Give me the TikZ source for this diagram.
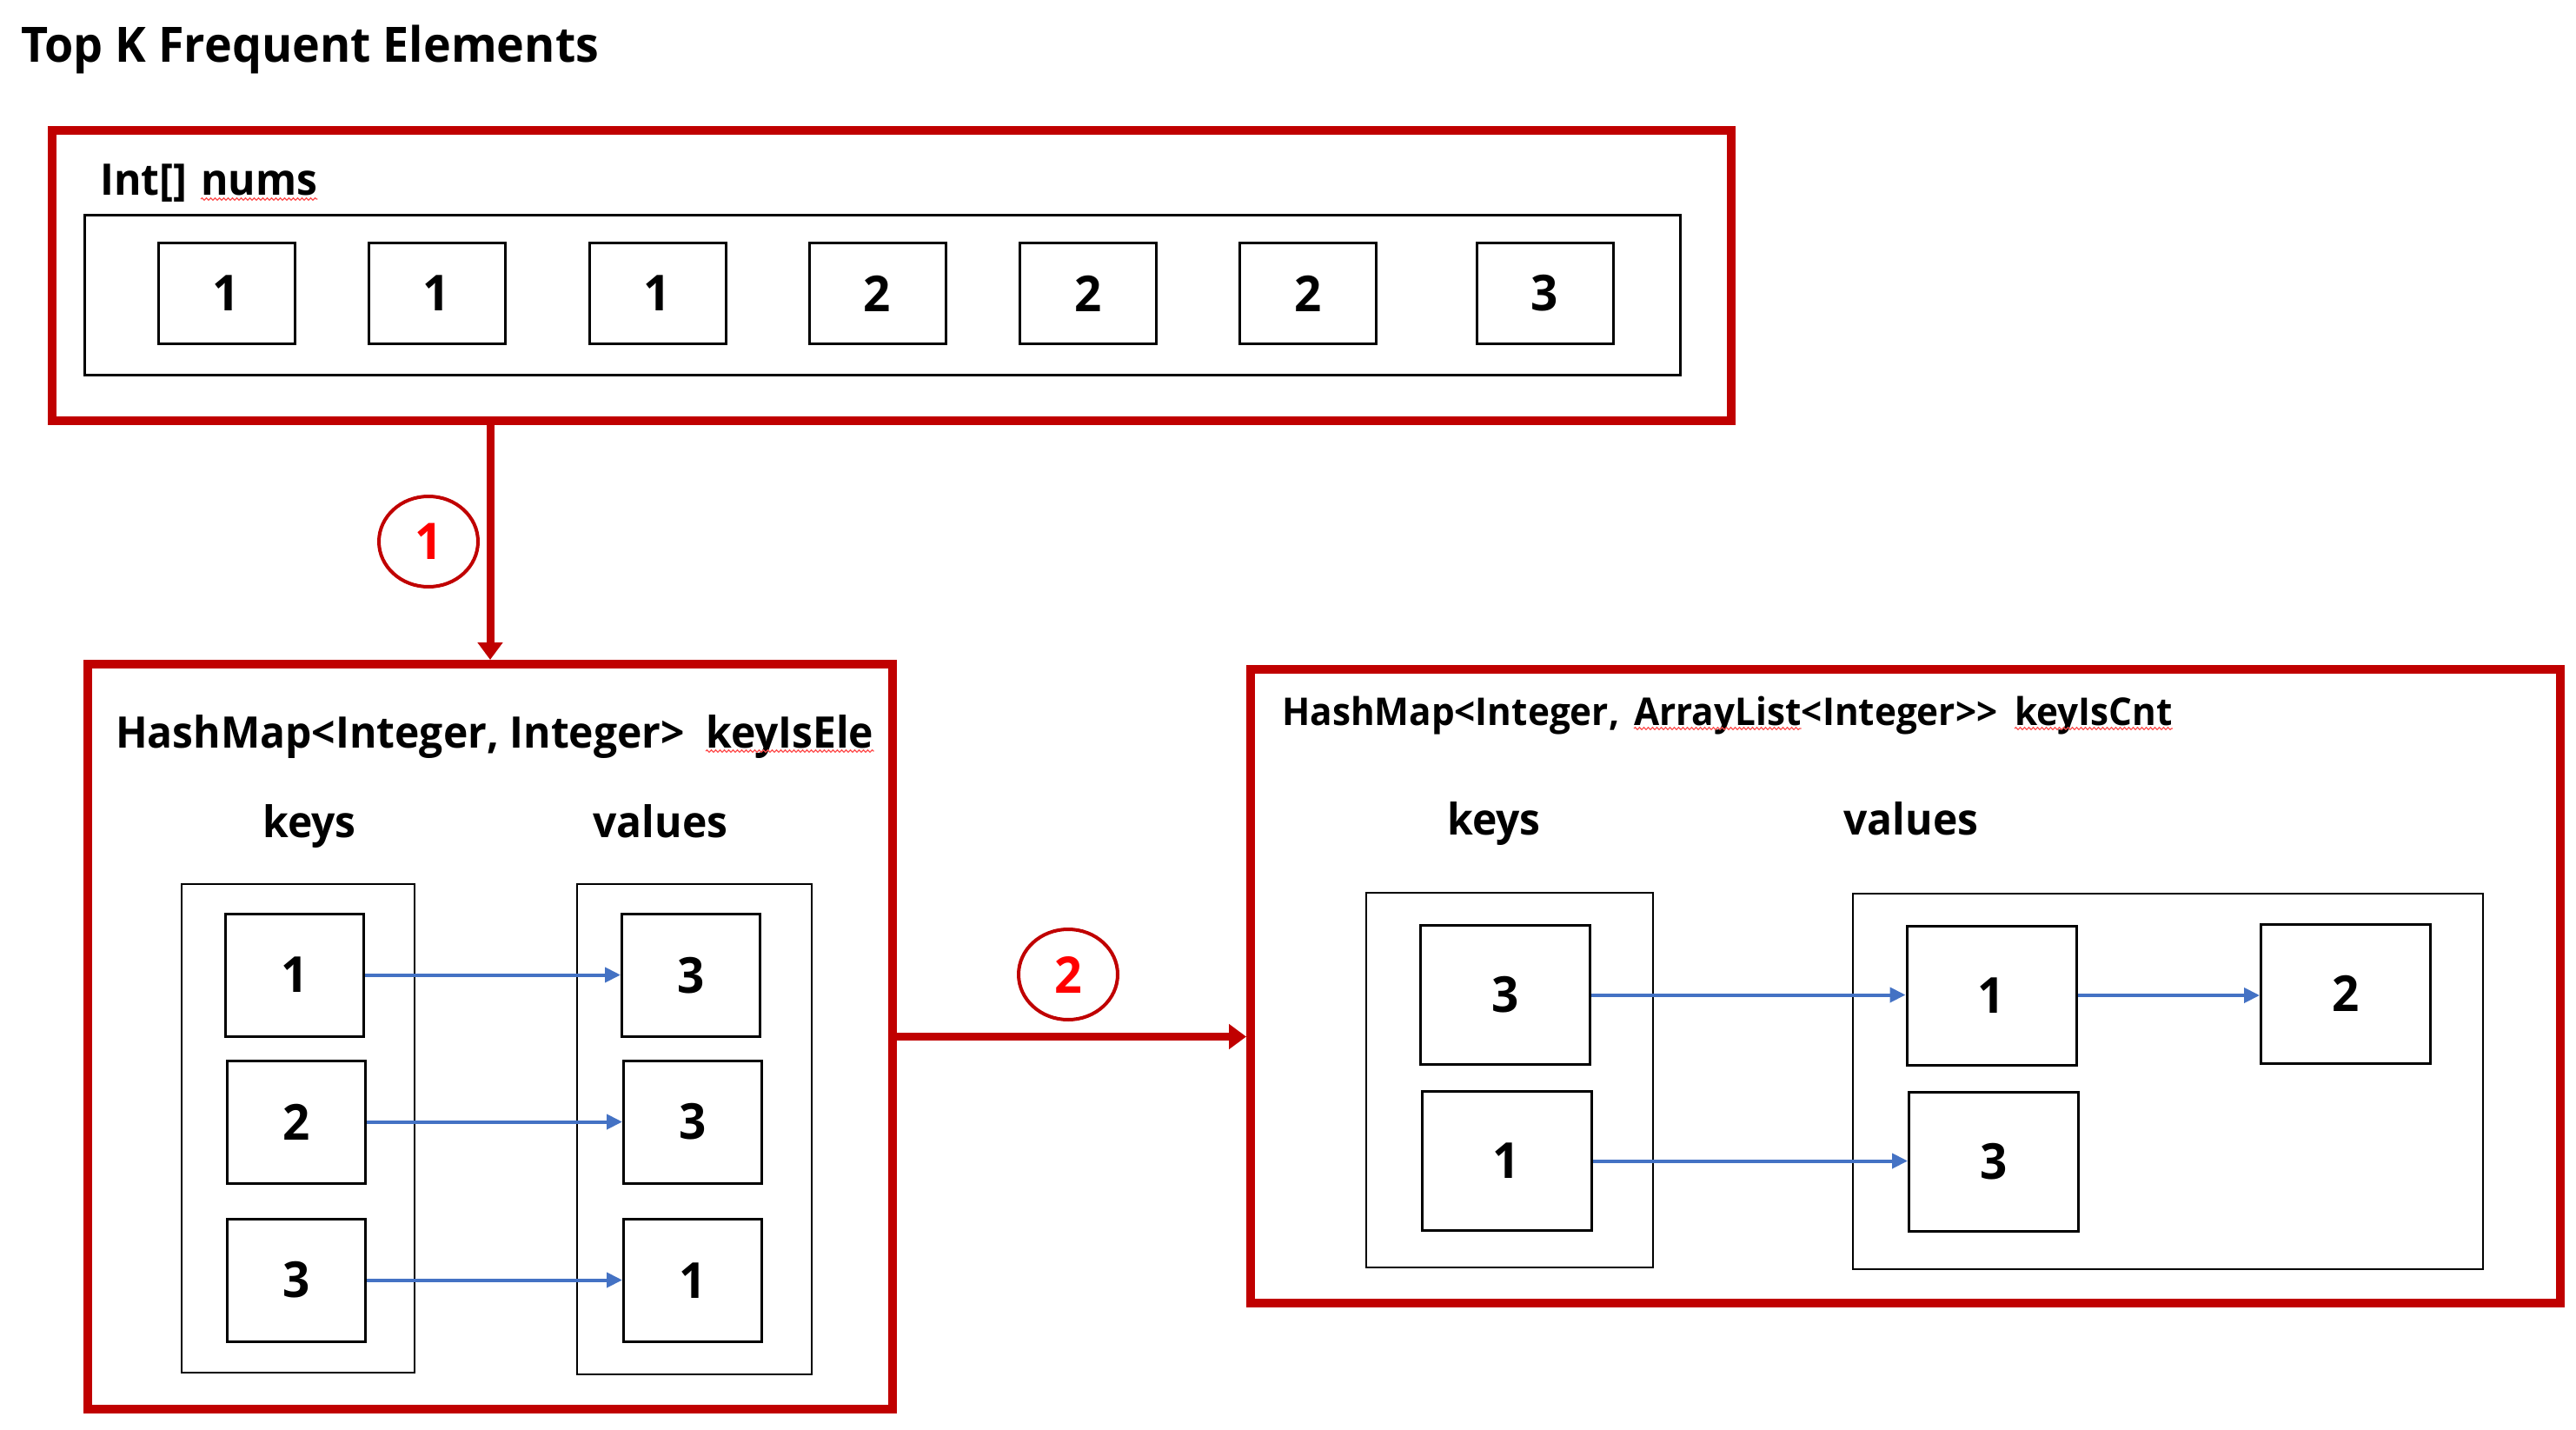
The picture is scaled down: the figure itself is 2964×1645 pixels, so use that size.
\documentclass[tikz,border=0pt]{standalone}
\usepackage{fontspec}
\setmainfont{Open Sans}[FakeStretch=0.96]
\usetikzlibrary{arrows.meta,shapes.geometric,decorations.pathmorphing}
\definecolor{boxred}{HTML}{C00000}
\definecolor{numred}{HTML}{FF0000}
\definecolor{linkblue}{HTML}{4472C4}
\tikzset{
  redframe/.style={draw=boxred, line width=10pt, inner sep=0pt},
  holder/.style={draw=black, line width=2.6pt, inner sep=0pt},
  numbox/.style={draw=black, line width=3pt, inner sep=0pt, minimum width=157pt, minimum height=115pt, font=\bfseries\fontsize{57}{68}\selectfont},
  cellbox/.style={draw=black, line width=3pt, inner sep=0pt, minimum width=159pt, minimum height=141pt, font=\bfseries\fontsize{57}{68}\selectfont},
  bigcell/.style={draw=black, line width=3pt, inner sep=0pt, minimum width=195pt, minimum height=160pt, font=\bfseries\fontsize{57}{68}\selectfont},
  stepmark/.style={ellipse, draw=boxred, line width=4pt, inner sep=0pt, minimum width=114pt, minimum height=104pt, text=numred, font=\bfseries\fontsize{58}{70}\selectfont},
  redarrow/.style={draw=boxred, line width=9pt, -{Triangle[length=20pt,width=28pt]}},
  bluearrow/.style={draw=linkblue, line width=4pt, -{Triangle[length=18pt,width=17pt]}},
  squig/.style={draw=numred!70, line width=1.2pt, decorate, decoration={snake, amplitude=1.3pt, segment length=5pt}},
  ttl/.style={inner sep=0pt, anchor=base west, font=\bfseries\fontsize{56}{66}\selectfont},
  lbl/.style={inner sep=0pt, anchor=base west, font=\bfseries\fontsize{50}{60}\selectfont},
  lbls/.style={inner sep=0pt, anchor=base west, font=\bfseries\fontsize{44}{54}\selectfont},
  colhead/.style={inner sep=0pt, anchor=base, font=\bfseries\fontsize{50}{60}\selectfont},
}
\begin{document}
\begin{tikzpicture}[x=1pt,y=-1pt]
\useasboundingbox[fill=white] (0,0) rectangle (2964,1645);

% title
\node[ttl] (title) at (24,72) {Top K Frequent Elements};

% top frame: Int[] nums
\node[redframe, minimum width=1932pt, minimum height=334pt] (top) at (1026,317) {};
\node[lbl] (numsa) at (115,225) {Int[]};
\node[lbl] (numsb) at (231,225) {nums};
\draw[squig] ([yshift=-4pt]numsb.base west) -- ([yshift=-4pt]numsb.base east);
\node[draw=black, line width=3pt, inner sep=0pt, minimum width=1836pt, minimum height=183pt] (arr) at (1015,339.5) {};
\node[numbox] (n1) at (260.5,337.5) {1};
\node[numbox] (n2) at (502.5,337.5) {1};
\node[numbox] (n3) at (756.5,337.5) {1};
\node[numbox] (n4) at (1009.5,337.5) {2};
\node[numbox] (n5) at (1252,337.5) {2};
\node[numbox] (n6) at (1505,337.5) {2};
\node[numbox] (n7) at (1777.5,337.5) {3};

% left hashmap
\node[redframe, minimum width=926pt, minimum height=857pt] (lh) at (564,1192.5) {};
\node[lbl] (lha) at (133,860) {HashMap<Integer, Integer>};
\node[lbl] (lhb) at (812,860) {keyIsEle};
\draw[squig] ([yshift=-4pt]lhb.base west) -- ([yshift=-4pt]lhb.base east);
\node[colhead] (lkeys) at (356,963) {keys};
\node[colhead] (lvals) at (760,963) {values};
\node[holder, minimum width=268pt, minimum height=562pt] (lkc) at (343,1298) {};
\node[holder, minimum width=270pt, minimum height=564pt] (lvc) at (799,1299) {};
\node[cellbox] (k1) at (339,1121.5) {1};
\node[cellbox] (k2) at (341,1290.5) {2};
\node[cellbox] (k3) at (341,1472.5) {3};
\node[cellbox] (v1) at (795,1122) {3};
\node[cellbox] (v2) at (797,1290.5) {3};
\node[cellbox] (v3) at (797,1473) {1};
\draw[bluearrow] (k1.east) -- (k1.east -| v1.west);
\draw[bluearrow] (k2.east) -- (k2.east -| v2.west);
\draw[bluearrow] (k3.east) -- (k3.east -| v3.west);

% right hashmap
\node[redframe, minimum width=1507pt, minimum height=729pt] (rh) at (2192.5,1134.5) {};
\node[lbls] (rha) at (1475,834) {HashMap<Integer,};
\node[lbls] (rhb) at (1880,834) {ArrayList};
\node[lbls] (rhc) at (rhb.base east) {<Integer>{}>};
\node[lbls] (rhd) at (2318,834) {keyIsCnt};
\draw[squig] ([yshift=-4pt]rhb.base west) -- ([yshift=-4pt]rhb.base east);
\draw[squig] ([yshift=-4pt]rhd.base west) -- ([yshift=-4pt]rhd.base east);
\node[colhead] (rkeys) at (1719,960) {keys};
\node[colhead] (rvals) at (2199,960) {values};
\node[holder, minimum width=330pt, minimum height=431pt] (rkc) at (1737,1242.5) {};
\node[holder, minimum width=725pt, minimum height=432pt] (rvc) at (2494.5,1244) {};
\node[bigcell] (rk1) at (1732,1144.5) {3};
\node[bigcell] (rk2) at (1733.5,1335.5) {1};
\node[bigcell] (rv1) at (2291.5,1145) {1};
\node[bigcell] (rv2) at (2294,1336) {3};
\node[bigcell] (rv3) at (2699,1143) {2};
\draw[bluearrow] (rk1.east) -- (rk1.east -| rv1.west);
\draw[bluearrow] (rk2.east) -- (rk2.east -| rv2.west);
\draw[bluearrow] (rv1.east) -- (rv1.east -| rv3.west);

% step arrows
\draw[redarrow] (lh.north |- top.south) -- (lh.north);
\node[stepmark] (s1) at (493,623) {1};
\draw[redarrow] (lh.east) -- (lh.east -| rh.west);
\node[stepmark] (s2) at (1229,1121) {2};
\end{tikzpicture}
\end{document}
